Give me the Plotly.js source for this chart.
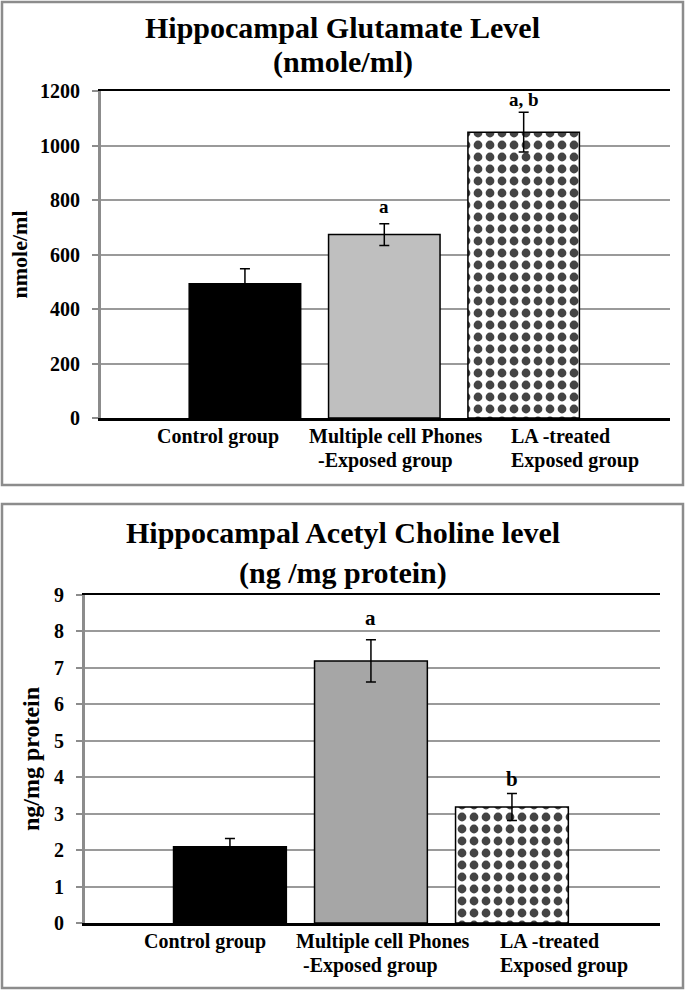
<!DOCTYPE html>
<html><head><meta charset="utf-8">
<script src="https://cdn.plot.ly/plotly-3.0.1.min.js"></script>
<style>html,body{margin:0;padding:0;background:#fff}#c{width:685px;height:992px}</style>
</head><body><div id="c"></div>
<script>
const categories = ["Control group", "Multiple cell Phones<br>-Exposed group", "LA -treated<br>Exposed group"];
const glutamate = [493, 673, 1049];
const glutamateErr = [55, 40, 73];
const glutamateSig = ["", "a", "a, b"];
const glutamateSigY = [null, 775, 1167];
const acetylcholine = [2.09, 7.19, 3.18];
const acetylcholineErr = [0.23, 0.58, 0.37];
const acetylcholineSig = ["", "a", "b"];
const acetylcholineSigY = [null, 8.37, 3.95];
const glutTicks = [0, 200, 400, 600, 800, 1000, 1200];
const achTicks = [0, 1, 2, 3, 4, 5, 6, 7, 8, 9];

const F = "'Liberation Serif', 'Times New Roman', serif";
const idx = [0, 1, 2];

function barTrace(vals, errs, colors, xa, ya) {
  return {
    type: "bar", x: idx, y: vals, xaxis: xa, yaxis: ya, width: 0.8,
    marker: {
      color: colors, line: {color: "#000", width: 1.5},
      pattern: {shape: ["", "", "."], fgcolor: "#000", fgopacity: 1, bgcolor: "#fff", size: 12, solidity: 0.42, fillmode: "overlay"}
    },
    error_y: {type: "data", array: errs, visible: true, color: "#000", thickness: 1.5, width: 5},
    hoverinfo: "none", showlegend: false
  };
}

const data = [
  barTrace(glutamate, glutamateErr, ["#000000", "#bfbfbf", "#ffffff"], "x", "y"),
  barTrace(acetylcholine, acetylcholineErr, ["#000000", "#a6a6a6", "#ffffff"], "x2", "y2")
];

const annotations = [];
// per-category label placement: [line1 shift, line2 shift], anchor
const labShift1 = [[-27, -27], [12, 1], [-15, -15]];
const labShift2 = [[-25, -25], [12, 0], [-14, -14]];
const labAnchor = ["center", "center", "left"];
const lineY = [-18, -42.5];
idx.forEach(i => {
  if (glutamateSig[i]) annotations.push({x: i, y: glutamateSigY[i], xref: "x", yref: "y", text: "<b>" + glutamateSig[i] + "</b>", showarrow: false, font: {family: F, size: 19, color: "#000"}});
  if (acetylcholineSig[i]) annotations.push({x: i, y: acetylcholineSigY[i], xref: "x2", yref: "y2", text: "<b>" + acetylcholineSig[i] + "</b>", showarrow: false, font: {family: F, size: 21, color: "#000"}});
  categories[i].split("<br>").forEach((line, k) => {
    annotations.push({x: i, y: 0, xref: "x", yref: "y", yanchor: "middle", xanchor: labAnchor[i], yshift: lineY[k], xshift: labShift1[i][k], text: "<b>" + line + "</b>", showarrow: false, font: {family: F, size: 20, color: "#000"}});
    annotations.push({x: i, y: 0, xref: "x2", yref: "y2", yanchor: "middle", xanchor: labAnchor[i], yshift: lineY[k], xshift: labShift2[i][k], text: "<b>" + line + "</b>", showarrow: false, font: {family: F, size: 20, color: "#000"}});
  });
});
// titles
function ttl(text, ypx) {
  return {x: 0.5, y: 1 - ypx/992, xref: "paper", yref: "paper", yanchor: "middle", text: "<b>" + text + "</b>", showarrow: false, font: {family: F, size: 30, color: "#000"}};
}
annotations.push(ttl("Hippocampal Glutamate Level", 28));
annotations.push(ttl("(nmole/ml)", 62));
annotations.push(ttl("Hippocampal Acetyl Choline level", 532));
annotations.push(ttl("(ng /mg protein)", 573));

function yax(domain, range, ticks, title, anchor, tsize, standoff) {
  return {
    domain: domain, range: range, anchor: anchor, tickvals: ticks, ticktext: ticks.map(t => "<b>" + t + "</b>"),
    showgrid: true, gridcolor: "#9a9a9a", gridwidth: 2, zeroline: false,
    showline: true, linecolor: "#8c8c8c", linewidth: 2, ticks: "outside", ticklen: 6, tickwidth: 2, tickcolor: "#8c8c8c",
    ticklabelstandoff: 8,
    tickfont: {family: F, size: 20, color: "#000"}, fixedrange: true,
    title: {text: "<b>" + title + "</b>", font: {family: F, size: tsize, color: "#000"}, standoff: standoff}
  };
}
function xax(domain, range, anchor) {
  return {domain: domain, range: range, anchor: anchor, showticklabels: false, ticks: "", showgrid: false, zeroline: false,
          showline: true, mirror: true, linecolor: "#000", linewidth: 2.5, fixedrange: true};
}

const layout = {
  width: 685, height: 992, margin: {l: 0, r: 0, t: 0, b: 0}, paper_bgcolor: "#fff", plot_bgcolor: "#fff",
  xaxis: xax([100/685, 670/685], [-1.04, 3.05], "y"),
  yaxis: yax([1 - 418/992, 1 - 91/992], [0, 1200], glutTicks, "nmole/ml", "x", 22, 6),
  xaxis2: xax([84/685, 660/685], [-1.035, 3.05], "y2"),
  yaxis2: yax([1 - 923/992, 1 - 595/992], [0, 9], achTicks, "ng/mg protein", "x2", 24, 8),
  annotations: annotations,
  shapes: [
    {type: "rect", xref: "paper", yref: "paper", x0: 2/685, x1: 683/685, y0: 1 - 485/992, y1: 1 - 2/992, line: {color: "#8c8c8c", width: 2.5}},
    {type: "rect", xref: "paper", yref: "paper", x0: 2/685, x1: 683/685, y0: 1 - 988/992, y1: 1 - 504/992, line: {color: "#8c8c8c", width: 2.5}},
    {type: "line", xref: "x domain", yref: "y domain", x0: 0, x1: 0, y0: 0, y1: 1, line: {color: "#8c8c8c", width: 2}},
    {type: "line", xref: "x2 domain", yref: "y2 domain", x0: 0, x1: 0, y0: 0, y1: 1, line: {color: "#8c8c8c", width: 2}}
  ]
};
Plotly.newPlot("c", data, layout, {staticPlot: true});
</script></body></html>
